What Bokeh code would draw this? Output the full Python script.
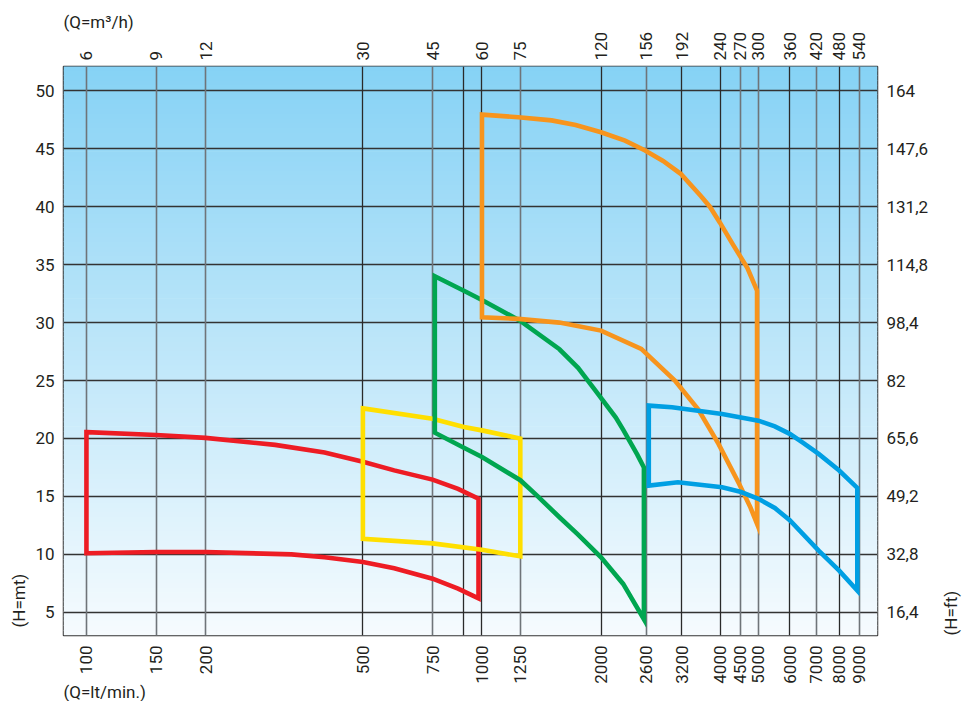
import math
import numpy as np
from bokeh.plotting import figure
from bokeh.models import Range1d, LogAxis, LinearAxis, FixedTicker, Grid, Title
from bokeh.embed import file_html
from bokeh.resources import INLINE

# ---------------- data ----------------
q_ticks_lpm = [100, 150, 200, 500, 750, 1000, 1250, 2000, 2600, 3200, 4000, 4500, 5000, 6000, 7000, 8000, 9000]
q_labels_lpm = ["100", "150", "200", "500", "750", "1000", "1250", "2000", "2600", "3200", "4000", "4500",
                "5000", "6000", "7000", "8000", "9000"]
q_labels_m3h = ["6", "9", "12", "30", "45", "60", "75", "120", "156", "192", "240", "270", "300", "360",
                "420", "480", "540"]
h_ticks_m = [5, 10, 15, 20, 25, 30, 35, 40, 45, 50]
h_labels_ft = ["16,4", "32,8", "49,2", "65,6", "82", "98,4", "114,8", "131,2", "147,6", "164"]
grid_gray_q = [100, 150, 200, 750, 1250, 2600, 4500, 5000, 7000, 9000]
grid_dark_q = [500, 900, 1000, 2000, 3200, 4000, 6000, 8000]

red_top_q = [100, 150, 200, 300, 400, 500, 600, 750, 870, 980]
red_top_h = [20.55, 20.3, 20.05, 19.45, 18.8, 18.0, 17.25, 16.45, 15.65, 14.8]
red_bot_q = [100, 150, 200, 330, 400, 500, 600, 750, 870, 980]
red_bot_h = [10.1, 10.2, 10.2, 10.0, 9.75, 9.35, 8.8, 7.9, 7.05, 6.2]

yel_top_q = [500, 750, 900, 1000, 1250]
yel_top_h = [22.6, 21.7, 21.0, 20.7, 20.0]
yel_bot_q = [500, 750, 1000, 1250]
yel_bot_h = [11.35, 10.95, 10.4, 9.83]

grn_top_q = [760, 900, 1000, 1250, 1570, 1750, 1930, 2180, 2280, 2470, 2567]
grn_top_h = [34.0, 32.75, 31.95, 30.15, 27.7, 26.1, 24.2, 21.8, 20.7, 18.6, 17.5]
grn_bot_q = [760, 900, 1000, 1250, 1380, 1570, 1750, 2000, 2275, 2567]
grn_bot_h = [20.5, 19.2, 18.4, 16.4, 15.05, 13.2, 11.7, 9.75, 7.45, 4.4]

org_top_q = [1000, 1236, 1500, 1725, 2000, 2300, 2585, 2870, 3180, 3580, 3768, 4000, 4300, 4690, 4960]
org_top_h = [47.95, 47.72, 47.45, 47.05, 46.43, 45.7, 44.85, 43.95, 42.84, 40.9, 40.0, 38.6, 36.8, 34.7,
             32.76]
org_bot_q = [1000, 1236, 1570, 2000, 2528, 3074, 3524, 3963, 4470, 4772, 4960]
org_bot_h = [30.46, 30.32, 30.0, 29.31, 27.73, 25.0, 22.5, 19.53, 16.08, 14.06, 12.63]

blu_top_q = [2641, 3023, 4047, 5000, 5500, 6000, 6500, 7100, 8000, 8891]
blu_top_h = [22.84, 22.69, 22.12, 21.54, 21.05, 20.4, 19.6, 18.67, 17.24, 15.74]
blu_bot_q = [2641, 3129, 4047, 4500, 5000, 5500, 6000, 7100, 8000, 8891]
blu_bot_h = [15.93, 16.22, 15.79, 15.4, 14.8, 14.0, 12.95, 10.32, 8.6, 6.87]

pumps = [
    (red_top_q, red_top_h, red_bot_q, red_bot_h, "#ed1c24"),
    (yel_top_q, yel_top_h, yel_bot_q, yel_bot_h, "#ffdf00"),
    (grn_top_q, grn_top_h, grn_bot_q, grn_bot_h, "#00a650"),
    (org_top_q, org_top_h, org_bot_q, org_bot_h, "#f7941d"),
    (blu_top_q, blu_top_h, blu_bot_q, blu_bot_h, "#009fe3"),
]

FONT = "Roboto"
TXT = "#231f20"
FS = "17px"

X0, X1 = 87.5, 10000
Y0, Y1 = 3.0, 52.1

p = figure(width=974, height=701, x_axis_type="log",
           x_range=Range1d(X0, X1), y_range=Range1d(Y0, Y1),
           output_backend="svg", toolbar_location=None,
           min_border_left=63, min_border_right=91, min_border_top=66, min_border_bottom=66)
p.background_fill_color = "white"
p.border_fill_color = "white"
p.outline_line_color = "#333333"
p.outline_line_width = 1.5

# gradient background (style)
n = 120
edges = np.linspace(Y0, Y1, n + 1)
top_c = np.array([134, 210, 245])
bot_c = np.array([246, 251, 254])
cols = []
for i in range(n):
    t = (i + 0.5) / n
    c = bot_c + (top_c - bot_c) * t
    cols.append("#%02x%02x%02x" % tuple(int(round(v)) for v in c))
bg = p.quad(left=[X0] * n, right=[X1] * n, bottom=list(edges[:-1]), top=list(edges[1:] + 0.06),
            fill_color=cols, line_color=None)
bg.level = "image"

# grids
p.xgrid.grid_line_color = None
p.ygrid.grid_line_color = None
p.add_layout(Grid(dimension=1, ticker=FixedTicker(ticks=h_ticks_m), grid_line_color="#333333",
                  grid_line_width=1.3))
p.add_layout(Grid(dimension=0, ticker=FixedTicker(ticks=grid_gray_q), grid_line_color="#6f7479",
                  grid_line_width=1.6))
p.add_layout(Grid(dimension=0, ticker=FixedTicker(ticks=grid_dark_q), grid_line_color="#2a2a2a",
                  grid_line_width=1.3))

# pump curves
for tq, th, bq, bh, col in pumps:
    xs = list(tq) + list(reversed(bq))
    ys = list(th) + list(reversed(bh))
    p.patch(xs, ys, fill_color=None, line_color=col, line_width=4.6, line_join="miter")


def style_axis(ax, standoff):
    ax.axis_line_color = None
    ax.major_tick_line_color = None
    ax.minor_tick_line_color = None
    ax.major_tick_out = 0
    ax.major_tick_in = 0
    ax.minor_tick_out = 0
    ax.minor_tick_in = 0
    ax.major_label_text_font = FONT
    ax.major_label_text_font_size = FS
    ax.major_label_text_color = TXT
    ax.major_label_standoff = standoff


# bottom axis (lt/min)
xb = p.xaxis[0]
xb.ticker = FixedTicker(ticks=q_ticks_lpm, minor_ticks=[])
xb.major_label_overrides = {q: s for q, s in zip(q_ticks_lpm, q_labels_lpm)}
xb.major_label_orientation = math.pi / 2
style_axis(xb, 10)

# top axis (m3/h)
xt = LogAxis(ticker=FixedTicker(ticks=q_ticks_lpm, minor_ticks=[]))
xt.major_label_overrides = {q: s for q, s in zip(q_ticks_lpm, q_labels_m3h)}
xt.major_label_orientation = math.pi / 2
style_axis(xt, 6)
p.add_layout(xt, "above")

# left axis (m)
yl = p.yaxis[0]
yl.ticker = FixedTicker(ticks=h_ticks_m, minor_ticks=[])
style_axis(yl, 9)

# right axis (ft)
yr = LinearAxis(ticker=FixedTicker(ticks=h_ticks_m, minor_ticks=[]))
yr.major_label_overrides = {h: s for h, s in zip(h_ticks_m, h_labels_ft)}
style_axis(yr, 9)
yr.axis_label = "(H=ft)"
yr.axis_label_text_font = FONT
yr.axis_label_text_font_size = FS
yr.axis_label_text_font_style = "normal"
yr.axis_label_text_color = TXT
yr.axis_label_standoff = 20
try:
    yr.axis_label_orientation = math.pi / 2
except Exception:
    pass
try:
    yr.axis_label_align = "start"
except Exception:
    pass
p.add_layout(yr, "right")


def ttl(text, side, standoff=0, offset=0):
    t = Title(text=text, align="left", standoff=standoff, offset=offset,
              text_font=FONT, text_font_size=FS, text_font_style="normal", text_color=TXT)
    p.add_layout(t, side)


ttl("(Q=m³/h)", "above", standoff=-7)
ttl("(Q=lt/min.)", "below", standoff=-14)
ttl("(H=mt)", "left", standoff=7, offset=8)

open("out.html", "w").write(file_html(p, INLINE))
